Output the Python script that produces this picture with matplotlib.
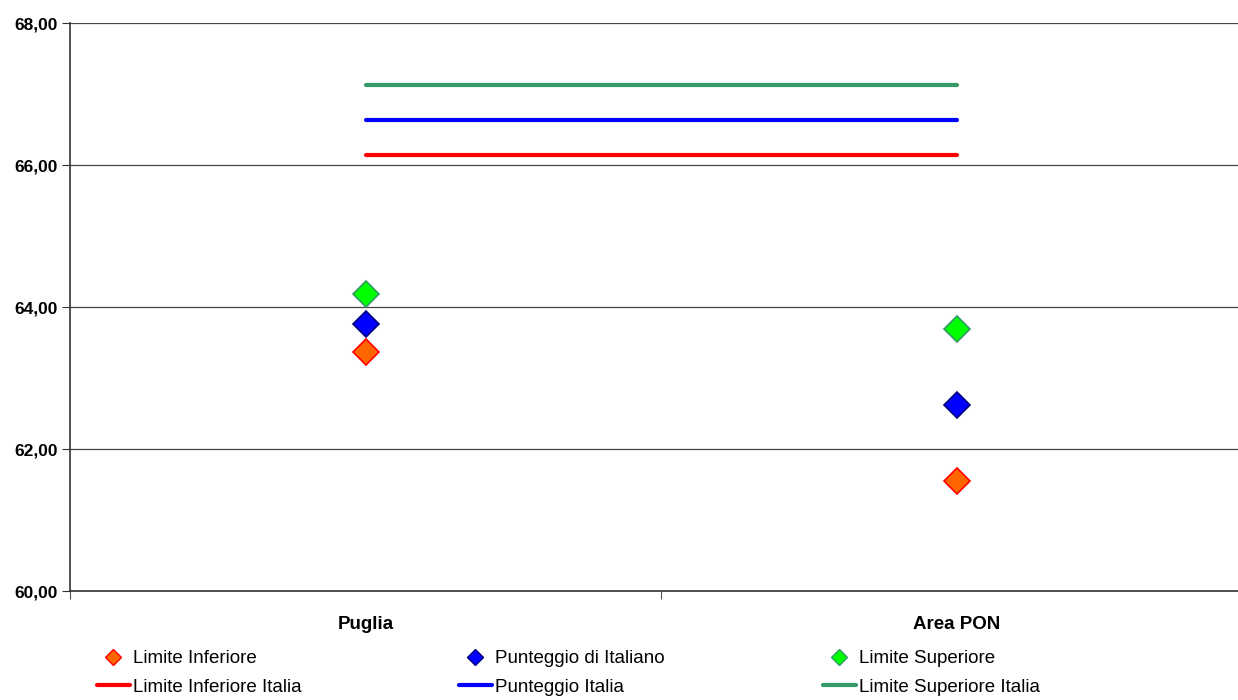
import matplotlib.pyplot as plt
from matplotlib.lines import Line2D

plt.rcParams["font.family"] = ["Liberation Sans", "DejaVu Sans"]

categorie = ["Puglia", "Area PON"]
limite_inferiore = [63.37, 61.55]
punteggio = [63.76, 62.62]
limite_superiore = [64.18, 63.69]

lim_inf_italia = [66.14, 66.14]
punteggio_italia = [66.63, 66.63]
lim_sup_italia = [67.13, 67.13]

fig = plt.figure(figsize=(12.38, 7), dpi=100)
ax = fig.add_axes([70 / 1238, 109 / 700, 1182 / 1238, 568 / 700])

x = range(len(categorie))

ax.plot(x, lim_inf_italia, color="#FF0000", lw=3, solid_capstyle="round", zorder=2)
ax.plot(x, punteggio_italia, color="#0000FF", lw=3, solid_capstyle="round", zorder=2)
ax.plot(x, lim_sup_italia, color="#339966", lw=3, solid_capstyle="round", zorder=2)

ax.plot(x, limite_superiore, "D", ms=13, mfc="#00FF00", mec="#339966", mew=1.2, zorder=3)
ax.plot(x, punteggio, "D", ms=13, mfc="#0000FF", mec="#000080", mew=1.2, zorder=3)
ax.plot(x, limite_inferiore, "D", ms=13, mfc="#FF6600", mec="#FF0000", mew=1.2, zorder=3)

ax.set_ylim(60, 68)
ax.set_xlim(-0.5, 1.5)
ax.set_yticks([60, 62, 64, 66, 68])
ax.set_yticklabels(["60,00", "62,00", "64,00", "66,00", "68,00"], fontweight="bold", fontsize=12.5)
ax.set_xticks([-0.5, 0.5, 1.5])
ax.set_xticklabels([])
ax.set_xticks(list(x), minor=True)
ax.set_xticklabels(categorie, minor=True, fontweight="bold", fontsize=13.5)
ax.tick_params(axis="x", which="minor", length=0, pad=18)
ax.tick_params(axis="x", which="major", length=6, direction="out", color="#555555")
ax.tick_params(axis="y", length=6, direction="out", color="#333333", pad=3)

ax.grid(axis="y", color="#444444", lw=0.9)
ax.set_axisbelow(True)
for s in ["top", "right"]:
    ax.spines[s].set_visible(False)
ax.spines["left"].set_color("#333333")
ax.spines["bottom"].set_color("#333333")
ax.spines["left"].set_linewidth(1.2)
ax.spines["bottom"].set_linewidth(1.2)

# legenda: tre colonne, ognuna con marcatore sopra e linea sotto
voci = [
    ("#FF6600", "#FF0000", "#FF0000", "Limite Inferiore", "Limite Inferiore Italia", 97),
    ("#0000FF", "#000080", "#0000FF", "Punteggio di Italiano", "Punteggio Italia", 459),
    ("#00FF00", "#339966", "#339966", "Limite Superiore", "Limite Superiore Italia", 823),
]
for fill, edge, linea, lab1, lab2, xpos in voci:
    h = [
        Line2D([], [], ls="", marker="D", ms=8.5, mfc=fill, mec=edge),
        Line2D([], [], color=linea, lw=3, solid_capstyle="round"),
    ]
    fig.legend(h, [lab1, lab2], loc="upper left", bbox_to_anchor=(xpos / 1238, 1 - 650 / 700),
               frameon=False, fontsize=13.5, handlelength=1.75, handletextpad=0.15,
               labelspacing=0.6, borderpad=0, borderaxespad=0)

fig.savefig("out.png", dpi=100)
